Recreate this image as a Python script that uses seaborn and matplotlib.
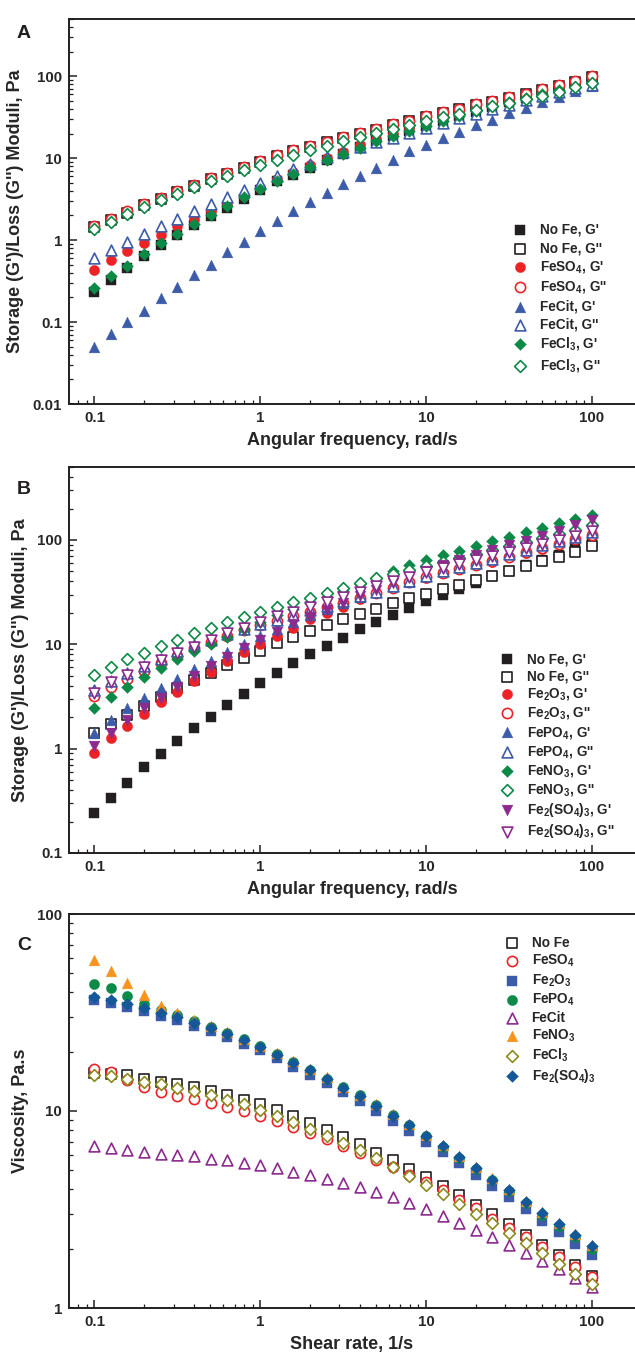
import matplotlib
matplotlib.use("Agg")
import matplotlib.pyplot as plt
import matplotlib.ticker as mticker
import seaborn as sns

sns.set_style("ticks")
plt.rcParams['font.family'] = ['Liberation Sans', 'DejaVu Sans']
plt.rcParams['font.weight'] = 'bold'
plt.rcParams['axes.labelweight'] = 'bold'
plt.rcParams['mathtext.fontset'] = 'custom'
plt.rcParams['mathtext.rm'] = 'Liberation Sans:bold'
plt.rcParams['mathtext.bf'] = 'Liberation Sans:bold'
plt.rcParams['mathtext.default'] = 'bf'

# shared x values (rad/s or 1/s)
freq = [0.1, 0.126, 0.158, 0.2, 0.251, 0.316, 0.398, 0.501, 0.631, 0.794,
        1, 1.26, 1.58, 2, 2.51, 3.16, 3.98, 5.01, 6.31, 7.94,
        10, 12.6, 15.8, 20, 25.1, 31.6, 39.8, 50.1, 63.1, 79.4, 100]

# Panel A: G' / G'' (Pa)
a_nofe_g1 = [0.23, 0.33, 0.46, 0.64, 0.87, 1.15, 1.52, 1.95, 2.5, 3.2, 4.1, 5.2, 6.3, 7.7, 9.4, 11.3,
             13.6, 16, 18.7, 21.5, 24.7, 28.3, 32.4, 37, 42.5, 48, 55, 62, 70, 80, 90]
a_nofe_g2 = [1.45, 1.75, 2.15, 2.65, 3.2, 3.85, 4.6, 5.5, 6.5, 7.7, 9.0, 10.5, 12.2, 13.8, 15.6, 17.8,
             20, 22.4, 25.2, 28.2, 31.5, 35.2, 39.4, 44.2, 48.8, 54.4, 60, 67.5, 75.5, 86, 99]
a_feso4_g1 = [0.43, 0.57, 0.73, 0.93, 1.17, 1.47, 1.8, 2.25, 2.8, 3.5, 4.3, 5.5, 6.8, 8.2, 10, 12,
              14.3, 17, 20, 23.2, 27, 31, 35.5, 41, 47, 53, 60, 68.5, 77.5, 88, 100]
a_feso4_g2 = [1.5, 1.81, 2.24, 2.74, 3.3, 3.95, 4.74, 5.7, 6.65, 7.85, 9.25, 10.8, 12.5, 14.1, 15.9, 18.2,
              20.5, 22.9, 25.8, 28.8, 32.4, 36.2, 40.4, 45.5, 49.9, 55.7, 61.6, 69.3, 77.4, 88, 102]
a_fecit_g1 = [0.049, 0.072, 0.1, 0.137, 0.196, 0.265, 0.376, 0.5, 0.71, 0.94, 1.28, 1.7, 2.28, 2.94, 3.77, 4.87,
              6.13, 7.7, 9.6, 12.1, 14.5, 17.6, 21.1, 25.3, 29.6, 35.5, 41.5, 48.5, 56, 65.6, 76]
a_fecit_g2 = [0.6, 0.76, 0.95, 1.2, 1.47, 1.81, 2.24, 2.79, 3.35, 4.1, 5.0, 6.0, 7.3, 8.6, 10.2, 11.8,
              13.6, 15.6, 17.8, 20.5, 23.5, 27, 31, 35, 40, 45, 51, 57, 64, 71, 79]
a_fecl3_g1 = [0.26, 0.36, 0.49, 0.68, 0.91, 1.2, 1.58, 2.02, 2.6, 3.38, 4.25, 5.3, 6.4, 7.9, 9.6, 11.2,
              13.3, 16, 18.5, 21.5, 25, 28.5, 33, 38, 43, 49, 55, 61, 68, 75, 83]
a_fecl3_g2 = [1.36, 1.68, 2.08, 2.55, 3.08, 3.7, 4.4, 5.2, 6.1, 7.2, 8.3, 9.6, 11, 12.5, 14.2, 16,
              18, 20.3, 22.6, 25.3, 28.3, 31.5, 35, 39, 43, 47.5, 52.5, 58, 65, 73, 83]

# Panel B: G' / G'' (Pa)
b_nofe_g1 = [0.24, 0.34, 0.47, 0.66, 0.89, 1.19, 1.56, 2.03, 2.63, 3.36, 4.26, 5.28, 6.55, 8.0, 9.6, 11.6,
             13.9, 16.3, 19.2, 22.2, 26, 30, 34.1, 38.8, 44.8, 50.6, 57.1, 63.6, 71.5, 83.6, 96]
b_nofe_g2 = [1.42, 1.74, 2.12, 2.58, 3.13, 3.79, 4.51, 5.36, 6.3, 7.44, 8.72, 10.2, 11.8, 13.4, 15.3, 17.3,
             19.5, 21.9, 24.7, 27.5, 30.6, 33.6, 37.1, 41.4, 45.4, 50.6, 56.4, 62.8, 68.9, 76.7, 86.7]
b_fe2o3_g1 = [0.91, 1.26, 1.65, 2.15, 2.81, 3.51, 4.41, 5.47, 6.93, 8.4, 10.1, 12.1, 14.4, 17.3, 19.9, 23,
              26.9, 31, 35.3, 39.9, 43.2, 48.8, 52.4, 57.6, 61.8, 68.4, 75, 82.4, 91.8, 101, 111]
b_fe2o3_g2 = [3.2, 3.88, 4.65, 5.56, 6.55, 7.73, 9.25, 10.6, 12.1, 13.6, 15.2, 16.9, 18.8, 20.6, 23, 25,
              27.5, 31, 35, 39.4, 43.9, 48, 53, 58, 63, 69, 76, 84, 92, 101, 112]
b_fepo4_g1 = [1.4, 1.89, 2.43, 3.04, 3.83, 4.68, 5.76, 6.94, 8.4, 10.1, 11.9, 13.9, 16.3, 18.9, 21.7, 24.7,
              28.1, 31.8, 35.9, 39.9, 44.8, 50, 55, 61, 67, 74, 81, 89, 98, 108, 118]
b_fepo4_g2 = [3.64, 4.41, 5.28, 6.22, 7.29, 8.6, 9.93, 11.1, 12.5, 13.9, 15.5, 17, 18.9, 21.5, 23.5, 26,
              29, 32, 36, 40, 45, 50, 55, 60, 66, 73, 80, 89, 98, 107, 118]
b_feno3_g1 = [2.43, 3.13, 3.91, 4.85, 5.89, 7.15, 8.53, 10.1, 11.8, 13.9, 16.3, 18.9, 21.9, 25, 28.5, 32.5,
              37.5, 43.5, 50, 57, 64, 71, 79, 88, 97, 107, 118, 130, 144, 157, 172]
b_feno3_g2 = [5.09, 6.1, 7.15, 8.3, 9.58, 11.1, 12.7, 14.4, 16.4, 18.3, 20.6, 23, 25.6, 28, 31, 34.8,
              38.5, 43, 47.5, 51.5, 56, 61, 67, 73, 80, 87, 95, 104, 114, 125, 138]
b_fe2so43_g1 = [1.05, 1.42, 1.89, 2.43, 3.08, 3.91, 4.92, 6.18, 7.57, 9.25, 11.1, 13.2, 15.5, 18.3, 21.4, 25,
                28.9, 33.4, 38.5, 43.9, 50.6, 57, 64, 71.5, 79.5, 88.5, 98.6, 110, 122, 138, 156]
b_fe2so43_g2 = [3.44, 4.32, 5.1, 6.1, 7.03, 8.24, 9.5, 11.1, 12.7, 14.4, 16.4, 18.5, 20.6, 23, 25.5, 28.5,
                32, 36, 40, 44, 49, 54, 59, 64, 70, 76, 83, 91, 100, 110, 122]

# Panel C: viscosity (Pa.s)
c_nofe = [15.6, 15.5, 15.2, 14.6, 14, 13.7, 13.2, 12.6, 12, 11.4, 10.8, 10.1, 9.44, 8.69, 8.04, 7.38,
          6.78, 6.14, 5.61, 5.09, 4.62, 4.16, 3.73, 3.34, 2.99, 2.66, 2.34, 2.1, 1.85, 1.65, 1.45]
c_feso4 = [16.4, 15.8, 14.4, 13.2, 12.5, 11.9, 11.5, 11, 10.5, 9.96, 9.4, 8.86, 8.3, 7.73, 7.23, 6.64,
           6.14, 5.66, 5.19, 4.75, 4.36, 3.95, 3.55, 3.22, 2.84, 2.55, 2.29, 2.04, 1.82, 1.61, 1.44]
c_fe2o3 = [36.5, 35.5, 33.8, 32.3, 30.5, 28.9, 27, 25.4, 23.7, 22, 20.3, 18.5, 16.8, 15.3, 13.8, 12.5,
           11.3, 10, 8.9, 7.95, 6.97, 6.18, 5.43, 4.76, 4.15, 3.66, 3.18, 2.77, 2.43, 2.12, 1.86]
c_fepo4 = [44, 42.2, 38.3, 35.1, 32.7, 30.6, 28.5, 26.7, 24.9, 23.1, 21.3, 19.4, 17.7, 16.2, 14.6, 13.2,
           12, 10.7, 9.5, 8.5, 7.45, 6.6, 5.8, 5.1, 4.45, 3.93, 3.42, 2.98, 2.62, 2.29, 2.0]
c_fecit = [6.61, 6.48, 6.36, 6.2, 6.07, 5.96, 5.89, 5.73, 5.61, 5.47, 5.3, 5.13, 4.93, 4.71, 4.53, 4.32,
           4.11, 3.88, 3.65, 3.41, 3.17, 2.93, 2.71, 2.5, 2.29, 2.1, 1.91, 1.73, 1.57, 1.42, 1.28]
c_feno3 = [58.7, 51.3, 44.7, 38.7, 34, 31.5, 29.1, 26.9, 25.2, 23.3, 21.5, 19.6, 17.9, 16.3, 14.8, 13.3,
           12.1, 10.8, 9.6, 8.6, 7.55, 6.7, 5.9, 5.2, 4.55, 4.02, 3.5, 3.07, 2.7, 2.37, 2.08]
c_fecl3 = [15.3, 15.1, 14.6, 14, 13.7, 13.1, 12.6, 12, 11.4, 10.8, 10.1, 9.44, 8.8, 8.07, 7.47, 6.87,
           6.31, 5.77, 5.19, 4.68, 4.23, 3.77, 3.38, 3.01, 2.7, 2.41, 2.14, 1.9, 1.68, 1.49, 1.33]
c_fe2so43 = [37.9, 36.8, 34.9, 33.5, 31.6, 30, 28, 26.5, 24.7, 22.9, 21.2, 19.3, 17.6, 16.1, 14.5, 13.1,
             11.9, 10.6, 9.44, 8.46, 7.43, 6.61, 5.84, 5.13, 4.49, 3.98, 3.47, 3.04, 2.68, 2.35, 2.06]

BLACK = '#231f20'
RED = '#ec2227'
BLUE = '#3c5ba8'
GREEN = '#0d8a47'
PURPLE = '#8c2a8e'
ORANGE = '#f7941e'
OLIVE = '#8c8b1e'
NAVY = '#15589a'

SIZE = {'s': 44, 'o': 54, '^': 60, 'v': 60, 'D': 36}

# (values, label, marker, colour, filled)
series_a = [
    (a_nofe_g1, "No Fe, G'", 's', BLACK, True),
    (a_nofe_g2, "No Fe, G''", 's', BLACK, False),
    (a_feso4_g1, "FeSO$_4$, G'", 'o', RED, True),
    (a_feso4_g2, "FeSO$_4$, G''", 'o', RED, False),
    (a_fecit_g1, "FeCit, G'", '^', BLUE, True),
    (a_fecit_g2, "FeCit, G''", '^', BLUE, False),
    (a_fecl3_g1, "FeCl$_3$, G'", 'D', GREEN, True),
    (a_fecl3_g2, "FeCl$_3$, G''", 'D', GREEN, False),
]
series_b = [
    (b_nofe_g1, "No Fe, G'", 's', BLACK, True),
    (b_nofe_g2, "No Fe, G''", 's', BLACK, False),
    (b_fe2o3_g1, "Fe$_2$O$_3$, G'", 'o', RED, True),
    (b_fe2o3_g2, "Fe$_2$O$_3$, G''", 'o', RED, False),
    (b_fepo4_g1, "FePO$_4$, G'", '^', BLUE, True),
    (b_fepo4_g2, "FePO$_4$, G''", '^', BLUE, False),
    (b_feno3_g1, "FeNO$_3$, G'", 'D', GREEN, True),
    (b_feno3_g2, "FeNO$_3$, G''", 'D', GREEN, False),
    (b_fe2so43_g1, "Fe$_2$(SO$_4$)$_3$, G'", 'v', PURPLE, True),
    (b_fe2so43_g2, "Fe$_2$(SO$_4$)$_3$, G''", 'v', PURPLE, False),
]
series_c = [
    (c_nofe, "No Fe", 's', BLACK, False),
    (c_feso4, "FeSO$_4$", 'o', RED, False),
    (c_fe2o3, "Fe$_2$O$_3$", 's', BLUE, True),
    (c_fepo4, "FePO$_4$", 'o', GREEN, True),
    (c_fecit, "FeCit", '^', PURPLE, False),
    (c_feno3, "FeNO$_3$", '^', ORANGE, True),
    (c_fecl3, "FeCl$_3$", 'D', OLIVE, False),
    (c_fe2so43, "Fe$_2$(SO$_4$)$_3$", 'D', NAVY, True),
]

W, H = 635, 1355
fig = plt.figure(figsize=(W / 100, H / 100), dpi=100)

left = 69 / W
width = 1 - left


def make_axes(top_px, bottom_px):
    return fig.add_axes([left, 1 - bottom_px / H, width, (bottom_px - top_px) / H])


def style_axes(ax, ylim, xlabel, ylabel):
    ax.set_xscale('log')
    ax.set_yscale('log')
    ax.set_xlim(0.0702, 182)
    ax.set_ylim(*ylim)
    fmt = mticker.FuncFormatter(lambda v, p: f'{v:g}')
    for axis in (ax.xaxis, ax.yaxis):
        axis.set_major_locator(mticker.LogLocator(base=10))
        axis.set_minor_locator(mticker.LogLocator(base=10, subs=range(2, 10)))
        axis.set_major_formatter(fmt)
        axis.set_minor_formatter(mticker.NullFormatter())
    ax.tick_params(which='both', direction='in', top=False, right=False, color=BLACK)
    ax.tick_params(which='major', length=5.5, width=1.1, labelsize=10.8, pad=5)
    ax.tick_params(which='minor', length=3, width=0.9)
    for lab in ax.get_xticklabels() + ax.get_yticklabels():
        lab.set_fontweight('bold')
    for side in ('left', 'bottom', 'top'):
        ax.spines[side].set_linewidth(1.4)
        ax.spines[side].set_color(BLACK)
    ax.spines['right'].set_visible(False)
    ax.set_xlabel(xlabel, fontsize=13, fontweight='bold', labelpad=5)
    ax.set_ylabel(ylabel, fontsize=13, fontweight='bold', labelpad=6)


def draw(ax, series):
    for vals, lab, m, col, filled in series:
        sns.scatterplot(x=freq, y=vals, ax=ax, marker=m, s=SIZE[m],
                        color=col if filled else 'white', edgecolor=col,
                        linewidth=0.3 if filled else 1.2, label=lab, legend=False)


def add_legend(ax, x_px, y_px, spacing):
    leg = ax.legend(loc='upper left', bbox_to_anchor=(x_px / W, 1 - y_px / H),
                    bbox_transform=fig.transFigure, frameon=False, fontsize=9.8,
                    handlelength=1.0, handletextpad=0.95, labelspacing=spacing,
                    borderpad=0, borderaxespad=0, scatterpoints=1)
    for t in leg.get_texts():
        t.set_fontweight('bold')


ylab_g = "Storage (G')/Loss (G'') Moduli, Pa"

ax_a = make_axes(19, 404)
draw(ax_a, series_a)
style_axes(ax_a, (0.01, 500), "Angular frequency, rad/s", ylab_g)
add_legend(ax_a, 513, 223, 0.30)

ax_b = make_axes(467, 853)
draw(ax_b, series_b)
style_axes(ax_b, (0.1, 500), "Angular frequency, rad/s", ylab_g)
add_legend(ax_b, 500, 652, 0.23)

ax_c = make_axes(914, 1308)
draw(ax_c, series_c)
style_axes(ax_c, (1, 100), "Shear rate, 1/s", "Viscosity, Pa.s")
add_legend(ax_c, 505, 936, 0.21)

for letter, y_px in (('A', 33), ('B', 490), ('C', 946)):
    fig.text(24 / W, 1 - y_px / H, letter, fontsize=14, fontweight='bold',
             ha='center', va='center', color=BLACK)

fig.savefig('out.png', dpi=100)
